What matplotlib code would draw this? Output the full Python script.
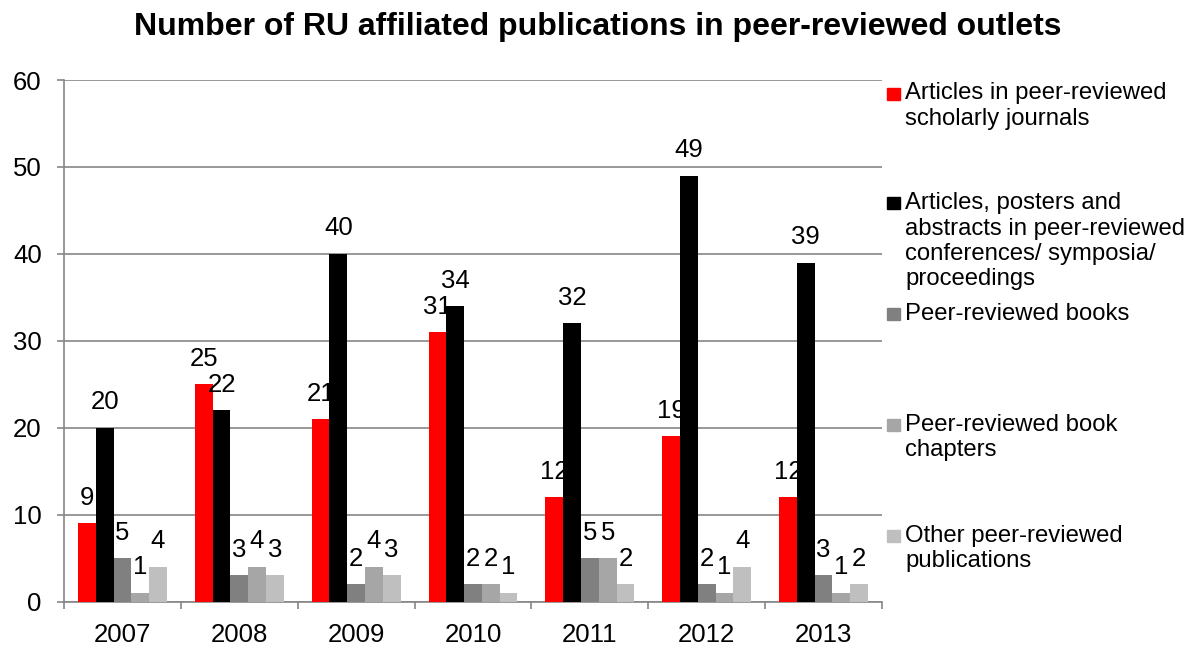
import matplotlib
matplotlib.use("Agg")
import matplotlib.pyplot as plt
import numpy as np

plt.rcParams["font.family"] = ["Liberation Sans", "DejaVu Sans"]

years = ["2007", "2008", "2009", "2010", "2011", "2012", "2013"]
series_names = [
    "Articles in peer-reviewed\nscholarly journals",
    "Articles, posters and\nabstracts in peer-reviewed\nconferences/ symposia/\nproceedings",
    "Peer-reviewed books",
    "Peer-reviewed book\nchapters",
    "Other peer-reviewed\npublications",
]
journals = [9, 25, 21, 31, 12, 19, 12]
conferences = [20, 22, 40, 34, 32, 49, 39]
books = [5, 3, 2, 2, 5, 2, 3]
chapters = [1, 4, 4, 2, 5, 1, 1]
other = [4, 3, 3, 1, 2, 4, 2]
series = [journals, conferences, books, chapters, other]
colors = ["#FF0000", "#000000", "#808080", "#A6A6A6", "#BFBFBF"]

W, H = 1196, 648
fig = plt.figure(figsize=(W / 100, H / 100), dpi=100)
ax = fig.add_axes([64 / W, 1 - 601.5 / H, 818 / W, 521.5 / H])

x = np.arange(len(years))
w = 0.152
for i, (vals, col) in enumerate(zip(series, colors)):
    pos = x + (i - 2) * w
    ax.bar(pos, vals, width=w, color=col, zorder=3)
    for px, v in zip(pos, vals):
        ax.annotate(str(v), (px, v), xytext=(0, 13.3), textcoords="offset points",
                    ha="center", va="baseline", fontsize=18.5, zorder=4)

ax.set_xlim(-0.5, len(years) - 0.5)
ax.set_ylim(0, 60)
ax.set_yticks(range(0, 61, 10))
ax.yaxis.grid(True, color="#868686", linewidth=1.2, zorder=0)
ax.set_xticks(x)
ax.set_xticklabels(years)
ax.set_xticks(np.arange(-0.5, len(years)), minor=True)
ax.tick_params(axis="x", which="major", length=0, pad=15.5, labelsize=18.5)
ax.tick_params(axis="x", which="minor", length=5, width=1.2, color="#868686", direction="out")
ax.tick_params(axis="y", length=5, width=1.2, color="#868686", pad=11, labelsize=18.5)
for s in ["top", "right"]:
    ax.spines[s].set_visible(False)
for s in ["left", "bottom"]:
    ax.spines[s].set_color("#868686")
    ax.spines[s].set_linewidth(1.2)

fig.text(0.5, 1 - 35 / H, "Number of RU affiliated publications in peer-reviewed outlets",
         fontsize=23, fontweight="bold", ha="center", va="baseline")

# legend entries spread down the right side (first-line baselines, px from top)
legend_baselines = [99.5, 209, 320, 430.7, 541.7]
line_step = 25.5
for name, col, yb in zip(series_names, colors, legend_baselines):
    fig.patches.append(plt.Rectangle((887 / W, 1 - yb / H), 13 / W, 12 / H,
                                     transform=fig.transFigure, color=col))
    for k, line in enumerate(name.split("\n")):
        fig.text(905 / W, 1 - (yb + k * line_step) / H, line, fontsize=17.2,
                 ha="left", va="baseline")

fig.savefig("out.png", dpi=100)
